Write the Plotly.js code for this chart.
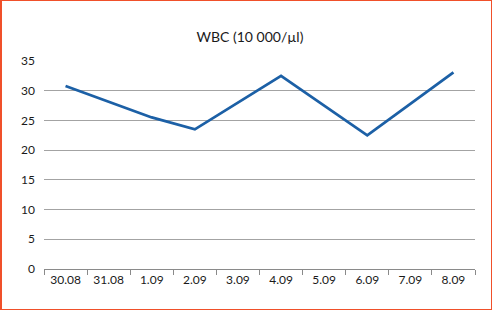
<!DOCTYPE html>
<html>
<head>
<meta charset="utf-8">
<script src="https://cdn.plot.ly/plotly-3.0.1.min.js"></script>
<style>
html,body{margin:0;padding:0;background:#fff;}
#wrap{position:relative;width:493px;height:311px;}
#chart{width:493px;height:311px;}
#frame{position:absolute;left:0;top:0;width:492px;height:310px;border:1.5px solid #f0502a;border-left-width:2px;pointer-events:none;box-sizing:border-box;}
</style>
</head>
<body>
<div id="wrap"><div id="chart"></div><div id="frame"></div></div>
<script>
var categories = ["30.08","31.08","1.09","2.09","3.09","4.09","5.09","6.09","7.09","8.09"];
var wbc = [30.8, null, 25.5, 23.5, null, 32.5, null, 22.5, null, 33.1];
var yTicks = [0,5,10,15,20,25,30,35];
var titleText = "WBC (10 000/µl)";

var trace = {
  x: categories, y: wbc, type: "scatter", mode: "lines",
  connectgaps: true,
  line: {color: "#1c60a6", width: 2.8},
  hoverinfo: "none"
};
var layout = {
  width: 493, height: 311,
  margin: {l: 44, r: 18, t: 61, b: 42},
  paper_bgcolor: "#fff", plot_bgcolor: "#fff",
  font: {family: "Lato, 'Open Sans', sans-serif", size: 12, color: "#1a1a1a"},
  title: {text: titleText, x: 0.507, xref: "container", y: 0.88, yanchor: "middle",
          font: {size: 14, color: "#1a1a1a"}},
  showlegend: false,
  xaxis: {
    type: "category", categoryorder: "array", categoryarray: categories,
    showgrid: false, zeroline: false,
    showline: true, linecolor: "#8a8a8a", linewidth: 1,
    ticks: "outside", tickson: "boundaries", ticklen: 5, tickcolor: "#8a8a8a",
    tickfont: {size: 12}, range: [-0.5, 9.5], fixedrange: true
  },
  yaxis: {
    range: [0, 35], tickvals: yTicks, ticktext: yTicks.map(String),
    showgrid: true, gridcolor: "#a3a3a3", gridwidth: 1,
    zeroline: false, showline: false, ticks: "", ticklabelstandoff: 8,
    tickfont: {size: 12}, fixedrange: true
  }
};
Plotly.newPlot("chart", [trace], layout, {displayModeBar: false, staticPlot: true});
</script>
</body>
</html>
